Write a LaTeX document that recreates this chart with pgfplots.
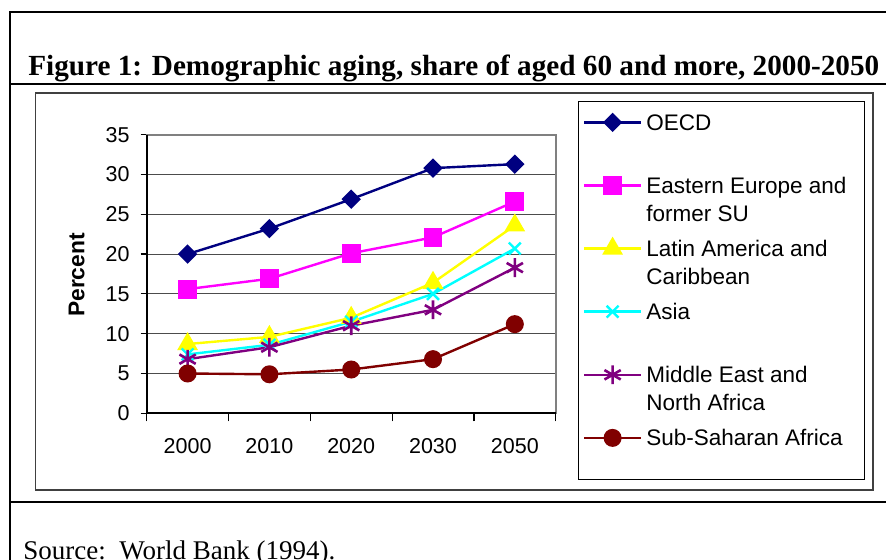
\documentclass[border=0pt]{standalone}
\usepackage{fontspec}
\setmainfont{Liberation Serif}
\newfontfamily\arial{Liberation Sans}
\usepackage{pgfplots}
\pgfplotsset{compat=1.18}
\definecolor{cOECD}{RGB}{0,0,128}
\definecolor{cEE}{RGB}{255,0,255}
\definecolor{cLA}{RGB}{255,255,0}
\definecolor{cAS}{RGB}{0,255,255}
\definecolor{cME}{RGB}{128,0,128}
\definecolor{cSS}{RGB}{128,0,0}
\newcommand\legtxt[2]{\begin{tabular}[t]{@{}l@{}}\strut #1\\\strut #2\end{tabular}}
\begin{document}
\begin{tikzpicture}
\path[use as bounding box, clip] (0,0) rectangle (443pt,280pt);
% table frame
\draw[line width=1pt] (5pt,-5pt) -- (5pt,274pt) -- (450pt,274pt);
\draw[line width=1pt] (5pt,238pt) -- (450pt,238pt);
\draw[line width=1pt] (5pt,28.75pt) -- (450pt,28.75pt);
\node[anchor=base west, inner sep=0pt, font=\fontsize{14.6}{16}\selectfont\bfseries] at (14pt,242pt) {Figure 1: Demographic aging, share of aged 60 and more, 2000-2050};
\node[anchor=base west, inner sep=0pt, font=\fontsize{13.5}{15}\selectfont] at (11.5pt,0pt) {Source:\ \ World Bank (1994).};
% chart area and legend frame
\draw[black!75, line width=0.7pt] (17.85pt,35pt) rectangle (436.5pt,233.5pt);
\draw[black, line width=0.5pt] (289pt,40pt) rectangle (432pt,229pt);
\begin{axis}[
  at={(73.35pt,73.35pt)}, anchor=south west, scale only axis,
  width=204.5pt, height=139.3pt, clip=false,
  xmin=-0.5, xmax=4.5, ymin=0, ymax=35,
  xtick={0,1,2,3,4}, xticklabels={2000,2010,2020,2030,2050},
  minor xtick={-0.5,0.5,1.5,2.5,3.5,4.5},
  ytick={0,5,...,35},
  tick align=outside, xtick pos=bottom, ytick pos=left,
  major tick length=3pt, minor tick length=4pt,
  tick style={black, line width=0.6pt},
  major x tick style={draw=none},
  ymajorgrids, grid style={black!70, line width=0.5pt},
  axis line style={draw=black!50, line width=1pt},
  ticklabel style={font=\arial\fontsize{10.75}{12}\selectfont},
  /pgf/number format/assume math mode=true,
  yticklabel style={xshift=-2pt},
  xticklabel style={yshift=-6pt},
  ylabel={Percent},
  every axis y label/.style={at={(axis description cs:-0.1711,0.4964)}, rotate=90, anchor=center, font=\arial\bfseries\fontsize{11.4}{13}\selectfont},
  legend style={at={(axis description cs:1.0655,1.1016)}, anchor=north west, draw=none, fill=none, inner sep=0pt,
    font=\arial\fontsize{11.25}{14}\selectfont, row sep=16.25pt, cells={anchor=base west},
    /tikz/column 2/.style={column sep=2pt}},
  legend image code/.code={\draw[#1, mark repeat=2, mark phase=2] plot coordinates {(0pt,4pt) (14.25pt,4pt) (28.5pt,4pt)};},
  every axis plot/.append style={line width=1.2pt},
]
\addplot[cOECD, mark=square*, mark size=2.83pt, mark options={solid, rotate=45, fill=cOECD}]
  coordinates {(0,20.0)(1,23.2)(2,26.9)(3,30.8)(4,31.3)};
\addlegendentry{\legtxt{OECD}{}}
\addplot[cEE, mark=square*, mark size=4.1pt, mark options={solid, fill=cEE}]
  coordinates {(0,15.6)(1,16.9)(2,20.1)(3,22.1)(4,26.6)};
\addlegendentry{\legtxt{Eastern Europe and}{former SU}}
\addplot[cLA, mark=triangle*, mark size=4.8pt, mark options={solid, fill=cLA}]
  coordinates {(0,8.7)(1,9.6)(2,12.0)(3,16.4)(4,23.6)};
\addlegendentry{\legtxt{Latin America and}{Caribbean}}
\addplot[cAS, mark=x, mark size=4.2pt, mark options={solid, line width=1.2pt}]
  coordinates {(0,7.4)(1,8.6)(2,11.5)(3,15.0)(4,20.7)};
\addlegendentry{\legtxt{Asia}{}}
\addplot[cME, mark=asterisk, mark size=4.7pt, mark options={solid, line width=1.3pt}]
  coordinates {(0,6.8)(1,8.3)(2,11.0)(3,13.0)(4,18.3)};
\addlegendentry{\legtxt{Middle East and}{North Africa}}
\addplot[cSS, mark=*, mark size=3.9pt, mark options={solid, fill=cSS}]
  coordinates {(0,5.0)(1,4.9)(2,5.5)(3,6.8)(4,11.2)};
\addlegendentry{\legtxt{Sub-Saharan Africa}{}}
\draw[black, line width=1pt] (rel axis cs:0,1) -- (rel axis cs:0,0) -- (rel axis cs:1,0);
\end{axis}
\end{tikzpicture}
\end{document}
